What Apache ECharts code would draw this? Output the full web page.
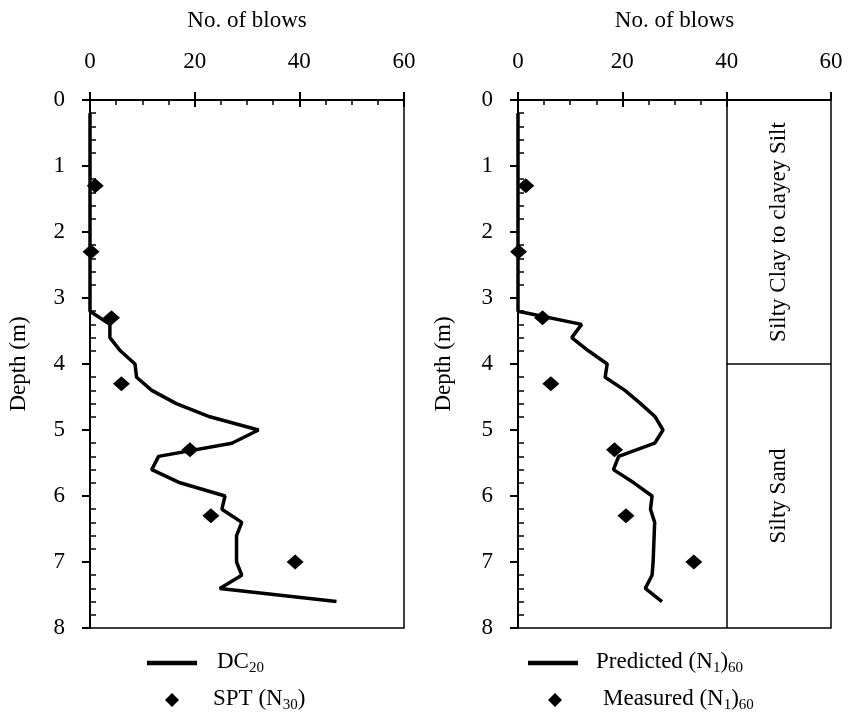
<!DOCTYPE html>
<html>
<head>
<meta charset="utf-8">
<script src="https://cdn.jsdelivr.net/npm/echarts@6/dist/echarts.min.js"></script>
<style>html,body{margin:0;padding:0;background:#fff}#c{width:849px;height:717px}</style>
</head>
<body>
<div id="c"></div>
<script>
// ---- data ----
const dcDepth   = [0.2, 3.2, 3.4, 3.6, 3.8, 4.0, 4.2, 4.4, 4.6, 4.8, 5.0, 5.2, 5.4, 5.6, 5.8, 6.0, 6.2, 6.4, 6.6, 7.0, 7.2, 7.4, 7.6];
const dcBlows   = [0, 0, 3.8, 3.8, 5.8, 8.6, 8.9, 11.8, 16.5, 22.9, 32.2, 27.1, 13.1, 11.8, 17.2, 25.8, 25.2, 29.0, 28.0, 28.0, 29.0, 24.8, 47.1];
const sptDepth  = [1.3, 2.3, 3.3, 4.3, 5.3, 6.3, 7.0];
const sptBlows  = [1.0, 0.2, 4.1, 6.0, 19.1, 23.1, 39.2];
const predDepth = [0.2, 3.2, 3.4, 3.6, 3.8, 4.0, 4.2, 4.4, 4.6, 4.8, 5.0, 5.2, 5.4, 5.6, 5.8, 6.0, 6.2, 6.4, 6.6, 6.8, 7.0, 7.2, 7.4, 7.6];
const predBlows = [0, 0, 12.2, 10.3, 13.5, 17.1, 16.7, 20.5, 23.5, 26.3, 27.8, 26.2, 19.3, 18.3, 22.2, 25.7, 25.4, 26.2, 26.1, 26.0, 25.9, 25.7, 24.4, 27.6];
const measDepth = [1.3, 2.3, 3.3, 4.3, 5.3, 6.3, 7.0];
const measBlows = [1.5, 0.1, 4.7, 6.3, 18.5, 20.7, 33.7];
const layerNames  = ['Silty Clay to clayey Silt', 'Silty Sand'];
const layerBlows  = [50, 50];
const layerDepths = [2, 6];
const layerBoundaryDepth = 4;
const layerBoundaryBlows = 40;
const xTitle = 'No. of blows';
const yTitle = 'Depth (m)';

const FONT = 'Liberation Serif';
const FS = 23;
const pair = (xs, ys) => xs.map((x, i) => [x, ys[i]]);

const G = { top: 100, height: 528 };
const LEFT = { left: 90, width: 314 };
const RIGHT = { left: 518, width: 313 };

function mainX(gi) {
  return {
    gridIndex: gi, type: 'value', position: 'top', min: 0, max: 60, interval: 20,
    name: xTitle, nameLocation: 'middle', nameGap: 68,
    nameTextStyle: { fontFamily: FONT, fontSize: FS, color: '#000' },
    axisLine: { show: true, lineStyle: { color: '#000', width: 2 } },
    axisTick: { show: true, inside: false, length: 8, lineStyle: { color: '#000', width: 2 } },
    axisLabel: { show: true, margin: 27, fontFamily: FONT, fontSize: FS, color: '#000' },
    splitLine: { show: false }
  };
}
function overX(gi, max) {
  return {
    gridIndex: gi, type: 'value', position: 'top', min: 0, max: max, interval: 20,
    axisLine: { show: true, lineStyle: { color: '#000', width: 2 } },
    axisTick: { show: true, inside: true, length: 7, lineStyle: { color: '#000', width: 2 } },
    minorTick: { show: true, splitNumber: 4, length: 5, lineStyle: { color: '#000', width: 1.5 } },
    axisLabel: { show: false }, splitLine: { show: false }
  };
}
function mainY(gi, gap) {
  return {
    gridIndex: gi, type: 'value', inverse: true, min: 0, max: 8, interval: 1,
    name: yTitle, nameLocation: 'middle', nameGap: gap,
    nameTextStyle: { fontFamily: FONT, fontSize: FS, color: '#000' },
    axisLine: { show: true, lineStyle: { color: '#000', width: 2 } },
    axisTick: { show: true, inside: false, length: 8, lineStyle: { color: '#000', width: 2 } },
    axisLabel: { show: true, margin: 25, fontFamily: FONT, fontSize: FS, color: '#000' },
    splitLine: { show: false }
  };
}
function overY(gi) {
  return {
    gridIndex: gi, type: 'value', inverse: true, min: 0, max: 8, interval: 1,
    axisLine: { show: true, lineStyle: { color: '#000', width: 2 } },
    axisTick: { show: false, inside: true },
    minorTick: { show: true, splitNumber: 5, length: 6, lineStyle: { color: '#000', width: 1.5 } },
    axisLabel: { show: false }, splitLine: { show: false }
  };
}

const rich = {
  m: { fontFamily: FONT, fontSize: FS, color: '#000', verticalAlign: 'bottom', padding: [0, 0, 3, 0] },
  s: { fontFamily: FONT, fontSize: 15, color: '#000', verticalAlign: 'bottom' }
};
const labelFmt = {
  'DC20': '{m|DC}{s|20}',
  'SPT (N30)': '{m|SPT (N}{s|30}{m|)}',
  'Predicted (N1)60': '{m|Predicted (N}{s|1}{m|)}{s|60}',
  'Measured (N1)60': '{m|Measured (N}{s|1}{m|)}{s|60}'
};
const diamondIcon = 'path://M0,-1L1,0L0,1L-1,0Z';
const lineIcon = 'path://M0,0L50,0L50,4.5L0,4.5Z';

function legend(left, top, name, icon, w, gap) {
  return {
    orient: 'vertical', left: left, top: top, padding: 0, itemWidth: w, itemHeight: 14,
    symbolKeepAspect: true,
    data: [{ name: name, icon: icon }],
    formatter: n => labelFmt[n],
    textStyle: { rich: rich, padding: [0, 0, 0, gap] }
  };
}

const option = {
  animation: false,
  backgroundColor: '#fff',
  grid: [
    Object.assign({ show: true, borderColor: '#000', borderWidth: 1.5, backgroundColor: 'transparent' }, G, LEFT),
    Object.assign({}, G, LEFT),
    Object.assign({ show: true, borderColor: '#000', borderWidth: 1.5, backgroundColor: 'transparent' }, G, RIGHT),
    Object.assign({}, G, { left: RIGHT.left, width: RIGHT.width * 40 / 60 })
  ],
  xAxis: [mainX(0), overX(1, 60), mainX(2), overX(3, 40)],
  yAxis: [mainY(0, 60), overY(1), mainY(2, 63), overY(3)],
  legend: [
    legend(147, 650, 'DC20', lineIcon, 50, 15),
    legend(165, 687, 'SPT (N30)', diamondIcon, 14, 29),
    legend(528, 650, 'Predicted (N1)60', lineIcon, 50, 13),
    legend(548, 687, 'Measured (N1)60', diamondIcon, 14, 36)
  ],
  series: [
    { name: 'DC20', type: 'line', xAxisIndex: 0, yAxisIndex: 0, data: pair(dcBlows, dcDepth),
      symbol: 'none', lineStyle: { color: '#000', width: 3.5 }, itemStyle: { color: '#000' } },
    { name: 'SPT (N30)', type: 'scatter', xAxisIndex: 0, yAxisIndex: 0, data: pair(sptBlows, sptDepth),
      symbol: 'diamond', symbolSize: [17, 15], itemStyle: { color: '#000', opacity: 1 } },
    { name: 'Predicted (N1)60', type: 'line', xAxisIndex: 2, yAxisIndex: 2, data: pair(predBlows, predDepth),
      symbol: 'none', lineStyle: { color: '#000', width: 3.5 }, itemStyle: { color: '#000' },
      markLine: {
        silent: true, symbol: 'none', label: { show: false },
        lineStyle: { color: '#000', width: 1.5, type: 'solid', opacity: 1 },
        data: [
          [{ coord: [layerBoundaryBlows, 0] }, { coord: [layerBoundaryBlows, 8] }],
          [{ coord: [layerBoundaryBlows, layerBoundaryDepth] }, { coord: [60, layerBoundaryDepth] }]
        ]
      } },
    { name: 'Measured (N1)60', type: 'scatter', xAxisIndex: 2, yAxisIndex: 2, data: pair(measBlows, measDepth),
      symbol: 'diamond', symbolSize: [17, 15], itemStyle: { color: '#000', opacity: 1 } },
    { name: 'layers', type: 'scatter', xAxisIndex: 2, yAxisIndex: 2, symbolSize: 0, silent: true,
      itemStyle: { color: '#000', opacity: 1 },
      data: layerNames.map((n, i) => ({ value: [layerBlows[i], layerDepths[i]], name: n })),
      label: { show: true, position: 'inside', rotate: 90, formatter: p => p.name, opacity: 1,
               fontFamily: FONT, fontSize: FS, color: '#000' } }
  ]
};
const chart = echarts.init(document.getElementById('c'));
chart.setOption(option);
</script>
</body>
</html>
